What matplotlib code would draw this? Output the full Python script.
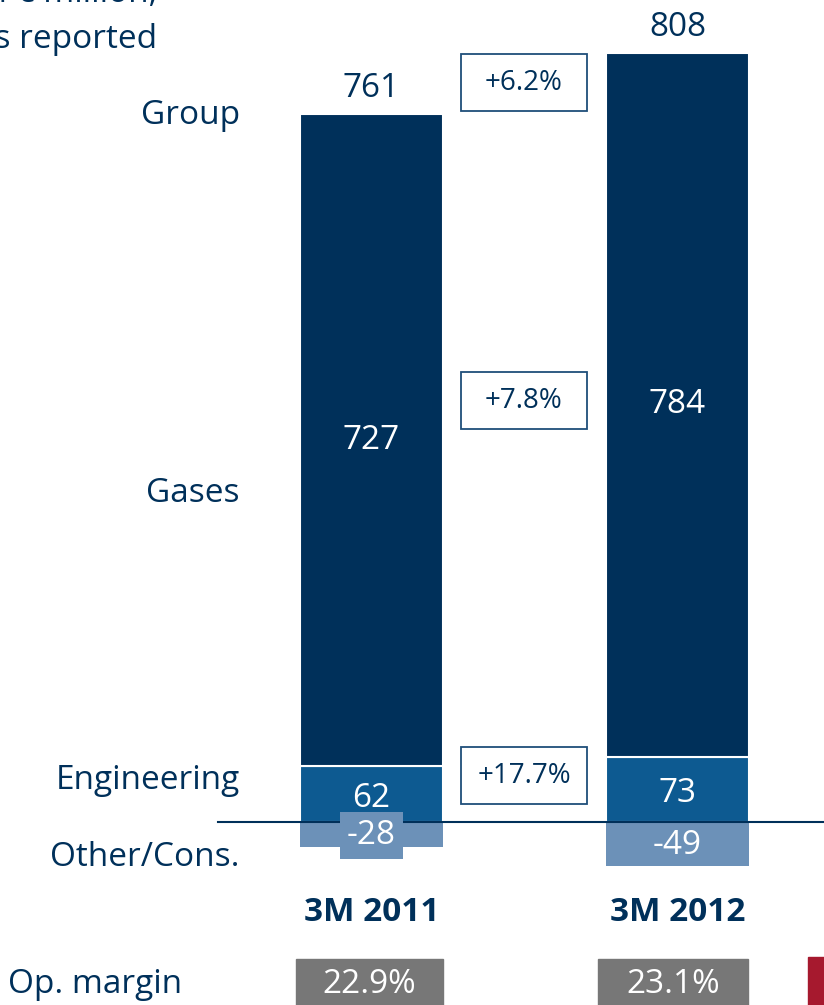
import matplotlib
matplotlib.use("Agg")
from matplotlib import pyplot as plt
from matplotlib.patches import Rectangle

plt.rcParams['font.family'] = ['Open Sans', 'DejaVu Sans']

# data
periods = ['3M 2011', '3M 2012']
gases = [727, 784]
engineering = [62, 73]
other = [-28, -49]
group = [761, 808]
growth = ['+6.2%', '+7.8%', '+17.7%']
margins = ['22.9%', '23.1%']
row_labels = ['Group', 'Gases', 'Engineering', 'Other/Cons.']

NAVY = '#00305A'
MID = '#0D5A91'
LIGHT = '#6C91B8'
GREY = '#777777'
RED = '#A6192E'

W, H = 824, 1005
fig = plt.figure(figsize=(W / 100, H / 100), dpi=100)
ax = fig.add_axes([0, 0, 1, 1])

# y: zero line at 822 px, 0.897 px per unit; x: bars centred at 371.5 / 677.5 px
ppu = 0.897
ax.set_ylim(-(H - 822) / ppu, 822 / ppu)
ax.set_xlim(-371.5 / 306, (W - 371.5) / 306)
ax.axis('off')

def px2y(py):
    return (822 - py) / ppu

def px2x(pxx):
    return (pxx - 371.5) / 306

xs = [0, 1]
bw = 0.467
ax.bar(xs, engineering, bw, color=MID, edgecolor='white', linewidth=1.5, zorder=2)
ax.bar(xs, gases, bw, bottom=engineering, color=NAVY, edgecolor='white', linewidth=1.5, zorder=2)
ax.bar(xs, other, bw, color=LIGHT, edgecolor='none', zorder=2)
ax.plot([px2x(218), px2x(W + 5)], [0, 0], color=NAVY, lw=1.5, zorder=3)

fs = 24
for i, x in enumerate(xs):
    top = gases[i] + engineering[i]
    ax.text(x, top + 10, str(group[i]), ha='center', va='bottom', fontsize=fs, color=NAVY)
    ax.text(x, engineering[i] + gases[i] / 2, str(gases[i]),
            ha='center', va='center', fontsize=fs, color='white', zorder=4)
    ax.text(x, engineering[i] / 2 - 5, str(engineering[i]), ha='center', va='center',
            fontsize=fs, color='white', zorder=4)
for i, x in enumerate(xs):
    if i == 0:
        ax.text(x, other[i] / 2 - 1, str(other[i]), ha='center', va='center', fontsize=fs,
                color='white', zorder=4,
                bbox=dict(boxstyle='square,pad=0.22', fc=LIGHT, ec='none'))
    else:
        ax.text(x, other[i] / 2 - 2, str(other[i]), ha='center', va='center', fontsize=fs,
                color='white', zorder=4)

# growth boxes
gy = [83, 401, 776]
for g, py in zip(growth, gy):
    ax.add_patch(Rectangle((px2x(461), px2y(py + 28)), px2x(587) - px2x(461), 57 / ppu,
                           fc='white', ec='#1F4E7A', lw=1.3, zorder=4))
    ax.text(px2x(524), px2y(py), g, ha='center', va='center', fontsize=20, color=NAVY,
            zorder=5)

# left labels
for lab, py in zip(row_labels, [115, 493, 780, 857]):
    ax.text(px2x(240), px2y(py), lab, ha='right', va='center', fontsize=fs, color=NAVY)

for x, p in zip(xs, periods):
    ax.text(x, px2y(912), p, ha='center', va='center', fontsize=fs, color=NAVY,
            fontweight='bold')

# op margin row
ax.text(px2x(95), px2y(984), 'Op. margin', ha='center', va='center', fontsize=fs, color=NAVY)
for (l, r), m in zip([(296, 443), (598, 748)], margins):
    ax.add_patch(Rectangle((px2x(l), px2y(1010)), px2x(r) - px2x(l), px2y(959) - px2y(1010),
                           color=GREY, zorder=2))
    ax.text(px2x((l + r) / 2), px2y(984), m, ha='center', va='center', fontsize=fs,
            color='white', zorder=3)
ax.add_patch(Rectangle((px2x(808), px2y(1010)), px2x(840) - px2x(808), px2y(957) - px2y(1010),
                       color=RED, zorder=2))

# title (cut off at the top-left, as in the source slide)
ax.text(px2x(157), px2y(2), 'in € million,', ha='right', va='baseline', fontsize=fs, color=NAVY)
ax.text(px2x(157), px2y(48), 'as reported', ha='right', va='baseline', fontsize=fs, color=NAVY)

fig.savefig('out.png', dpi=100)
